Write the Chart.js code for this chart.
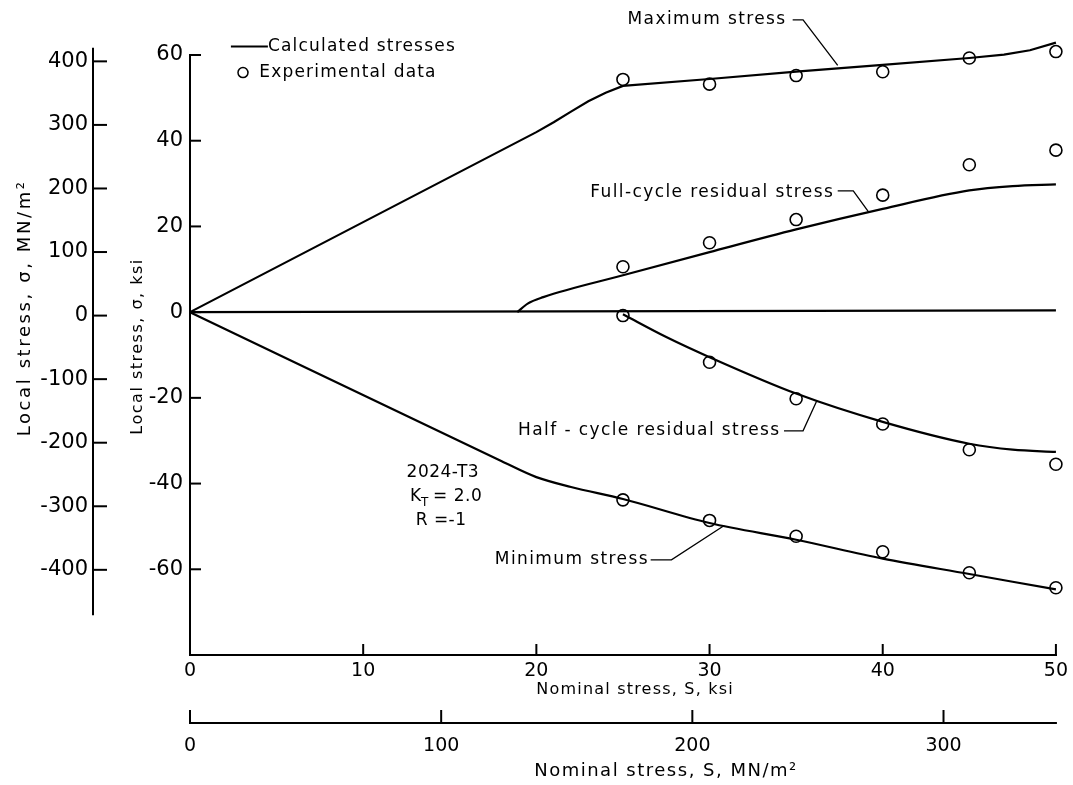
<!DOCTYPE html>
<html>
<head>
<meta charset="utf-8">
<script src="https://cdn.jsdelivr.net/npm/chart.js@4/dist/chart.umd.min.js"></script>
<style>
  html, body { margin: 0; padding: 0; background: #fff; }
  #wrap { width: 1073px; height: 785px; }
</style>
</head>
<body>
<div id="wrap"><canvas id="stress-chart" width="1073" height="785"></canvas></div>
<script>
// Calculated local stresses (ksi) against nominal stress S (ksi)
const maxS = [0, 20, 21, 22, 23, 24, 25, 30, 35, 40, 45, 47, 48.5, 50];
const maxSigma = [0, 42, 44.3, 46.8, 49.2, 51.2, 52.8, 54.4, 56.1, 57.7, 59.3, 60.1, 61.1, 62.9];

const zeroS = [0, 50];
const zeroSigma = [0, 0.4];

const fullS = [18.9, 19.5, 20.4, 25, 30, 35, 40, 45, 47.5, 50];
const fullSigma = [0, 2.0, 3.5, 8.6, 14.0, 19.3, 24.1, 28.4, 29.4, 29.8];

const halfS = [25, 27.5, 30, 35, 40, 45, 47.5, 50];
const halfSigma = [-0.5, -5.8, -10.5, -19.0, -25.6, -30.7, -32.1, -32.6];

const minS = [0, 18, 20, 22, 25, 30, 35, 40, 45, 50];
const minSigma = [0, -34.8, -38.5, -40.8, -43.6, -49.2, -53.1, -57.5, -61.1, -64.7];

// Experimental data (ksi)
const expS = [25, 30, 35, 40, 45, 50];
const expMax = [54.3, 53.2, 55.2, 56.1, 59.3, 60.8];
const expFull = [10.6, 16.2, 21.6, 27.3, 34.4, 37.8];
const expHalf = [-0.8, -11.7, -20.2, -26.1, -32.1, -35.5];
const expMin = [-43.8, -48.6, -52.3, -55.9, -60.8, -64.3];

// Tick labels
const sigmaKsiTicks = [60, 40, 20, 0, -20, -40, -60];
const sigmaMpaTicks = [400, 300, 200, 100, 0, -100, -200, -300, -400];
const nominalKsiTicks = [0, 10, 20, 30, 40, 50];
const nominalMpaTicks = [0, 100, 200, 300];

const KSI_TO_MPA = 6.895;
const FONT = '"DejaVu Sans", sans-serif';

function toPoints(xs, ys) {
  return xs.map((v, i) => ({ x: v, y: ys[i] }));
}

function curve(xs, ys, smooth) {
  return {
    data: toPoints(xs, ys),
    showLine: true,
    pointRadius: 0,
    borderColor: '#000',
    borderWidth: 2.2,
    cubicInterpolationMode: smooth ? 'monotone' : 'default',
    tension: 0,
    clip: false
  };
}

function experimental(ys) {
  return {
    data: toPoints(expS, ys),
    showLine: false,
    pointStyle: 'circle',
    pointRadius: 6,
    pointBorderWidth: 1.6,
    pointBorderColor: '#000',
    pointBackgroundColor: 'rgba(0,0,0,0)',
    clip: false
  };
}

function line(ctx, x1, y1, x2, y2) {
  ctx.beginPath();
  ctx.moveTo(x1, y1);
  ctx.lineTo(x2, y2);
  ctx.stroke();
}

function put(ctx, text, px, py, size, align, spacing) {
  ctx.font = size + 'px ' + FONT;
  ctx.letterSpacing = (spacing || 0) + 'px';
  ctx.textAlign = align;
  ctx.textBaseline = 'middle';
  ctx.fillText(text, px, py);
}

function putRotated(ctx, text, px, py, size, spacing) {
  ctx.save();
  ctx.translate(px, py);
  ctx.rotate(-Math.PI / 2);
  put(ctx, text, 0, 0, size, 'center', spacing);
  ctx.restore();
}

// curve labels: text anchor (right end) and leader polyline, in S / sigma units
const curveLabels = [
  { text: 'Maximum stress', at: [34.45, 68.3], leader: [[34.8, 68.2], [35.4, 68.2], [37.4, 57.6]] },
  { text: 'Full-cycle residual stress', at: [37.2, 27.9], leader: [[37.4, 28.3], [38.3, 28.3], [39.2, 23.3]] },
  { text: 'Half - cycle residual stress', at: [34.1, -27.7], leader: [[34.3, -27.7], [35.4, -27.7], [36.2, -20.6]] },
  { text: 'Minimum stress', at: [26.5, -57.8], leader: [[26.6, -57.8], [27.8, -57.8], [30.85, -49.8]] }
];

const decorations = {
  id: 'decorations',
  afterDraw(chart) {
    const ctx = chart.ctx;
    const { x, y, xMpa, yMpa } = chart.scales;
    const px = v => x.getPixelForValue(v);
    const py = v => y.getPixelForValue(v);

    ctx.save();
    ctx.strokeStyle = '#000';
    ctx.fillStyle = '#000';
    ctx.lineCap = 'square';
    ctx.lineWidth = 2;

    // ksi axes with inward ticks
    line(ctx, x.left, py(sigmaKsiTicks[0]), x.left, y.bottom);
    line(ctx, x.left, y.bottom, x.right, y.bottom);
    sigmaKsiTicks.forEach(v => line(ctx, x.left, py(v), x.left + 10, py(v)));
    nominalKsiTicks.slice(1).forEach(v => line(ctx, px(v), y.bottom, px(v), y.bottom - 10));

    // MN/m2 axes
    line(ctx, yMpa.right, yMpa.getPixelForValue(420), yMpa.right, yMpa.getPixelForValue(-470));
    sigmaMpaTicks.forEach(v => {
      const p = yMpa.getPixelForValue(v);
      line(ctx, yMpa.right, p, yMpa.right + 13, p);
    });
    line(ctx, xMpa.left, xMpa.top, xMpa.right, xMpa.top);
    nominalMpaTicks.forEach(v => {
      const p = xMpa.getPixelForValue(v);
      line(ctx, p, xMpa.top, p, xMpa.top - 12);
    });

    // axis titles
    putRotated(ctx, 'Local stress, \u03c3, ksi', yMpa.right + 45, py(-8), 16, 1.5);
    putRotated(ctx, 'Local stress, \u03c3, MN/m\u00b2', yMpa.left + 25, py(1), 18, 2.6);
    put(ctx, 'Nominal stress, S, ksi', px(25.7), x.top + 35, 16, 'center', 1.2);
    put(ctx, 'Nominal stress, S, MN/m\u00b2', xMpa.getPixelForValue(189.5), xMpa.top + 48, 18, 'center', 1.5);

    // legend
    line(ctx, px(2.42), py(62), px(4.44), py(62));
    put(ctx, 'Calculated stresses', px(4.5), py(62), 17, 'left', 1.2);
    ctx.lineWidth = 1.5;
    ctx.beginPath();
    ctx.arc(px(3.06), py(55.9), 5, 0, Math.PI * 2);
    ctx.stroke();
    put(ctx, 'Experimental data', px(4.0), py(55.9), 17, 'left', 1.2);

    // curve labels with leaders
    ctx.lineWidth = 1.3;
    ctx.lineCap = 'butt';
    curveLabels.forEach(l => {
      put(ctx, l.text, px(l.at[0]), py(l.at[1]), 17, 'right', 1.4);
      ctx.beginPath();
      l.leader.forEach((p, i) => {
        if (i === 0) ctx.moveTo(px(p[0]), py(p[1]));
        else ctx.lineTo(px(p[0]), py(p[1]));
      });
      ctx.stroke();
    });

    // specimen details
    put(ctx, '2024-T3', px(14.6), py(-37.5), 17, 'center', 0.5);
    const kx = px(12.7), ky = py(-43.1);
    put(ctx, 'K', kx, ky, 17, 'left', 0);
    const kw = ctx.measureText('K').width;
    put(ctx, 'T', kx + kw, ky + 6, 12, 'left', 0);
    put(ctx, '= 2.0', kx + kw + 12, ky, 17, 'left', 0.5);
    put(ctx, 'R =-1', px(14.5), py(-48.7), 17, 'center', 0.5);

    ctx.restore();
  }
};

function fixedWidth(w) {
  return scale => { scale.width = w; };
}
function fixedHeight(h) {
  return scale => { scale.height = h; };
}
function setTicks(values) {
  return scale => { scale.ticks = values.map(v => ({ value: v })); };
}

const tickFont = size => ({ family: FONT, size: size });

new Chart(document.getElementById('stress-chart'), {
  type: 'scatter',
  data: {
    datasets: [
      curve(maxS, maxSigma, false),
      curve(zeroS, zeroSigma, false),
      curve(fullS, fullSigma, true),
      curve(halfS, halfSigma, true),
      curve(minS, minSigma, true),
      experimental(expMax),
      experimental(expFull),
      experimental(expHalf),
      experimental(expMin)
    ]
  },
  options: {
    responsive: false,
    animation: false,
    layout: { padding: { top: 55, right: 16, left: 0, bottom: 0 } },
    plugins: {
      legend: { display: false },
      tooltip: { enabled: false }
    },
    scales: {
      x: {
        type: 'linear',
        position: 'bottom',
        weight: 0,
        min: 0,
        max: 50,
        grid: { display: false, drawTicks: false },
        border: { display: false },
        afterBuildTicks: setTicks(nominalKsiTicks),
        afterFit: fixedHeight(68),
        ticks: { color: '#000', font: tickFont(19), padding: 5, maxRotation: 0 }
      },
      xMpa: {
        type: 'linear',
        position: 'bottom',
        weight: 1,
        min: 0,
        max: 50 * KSI_TO_MPA,
        grid: { display: false, drawTicks: false },
        border: { display: false },
        afterBuildTicks: setTicks(nominalMpaTicks),
        afterFit: fixedHeight(62),
        ticks: { color: '#000', font: tickFont(19), padding: 12, maxRotation: 0 }
      },
      y: {
        type: 'linear',
        position: 'left',
        weight: 0,
        min: -80,
        max: 60,
        grid: { display: false, drawTicks: false },
        border: { display: false },
        afterBuildTicks: setTicks(sigmaKsiTicks),
        afterFit: fixedWidth(97),
        ticks: { color: '#000', font: tickFont(21), padding: 7 }
      },
      yMpa: {
        type: 'linear',
        position: 'left',
        weight: 1,
        min: -534,
        max: 410,
        grid: { display: false, drawTicks: false },
        border: { display: false },
        afterBuildTicks: setTicks(sigmaMpaTicks),
        afterFit: fixedWidth(93),
        ticks: { color: '#000', font: tickFont(21), padding: 5 }
      }
    }
  },
  plugins: [decorations]
});
</script>
</body>
</html>
